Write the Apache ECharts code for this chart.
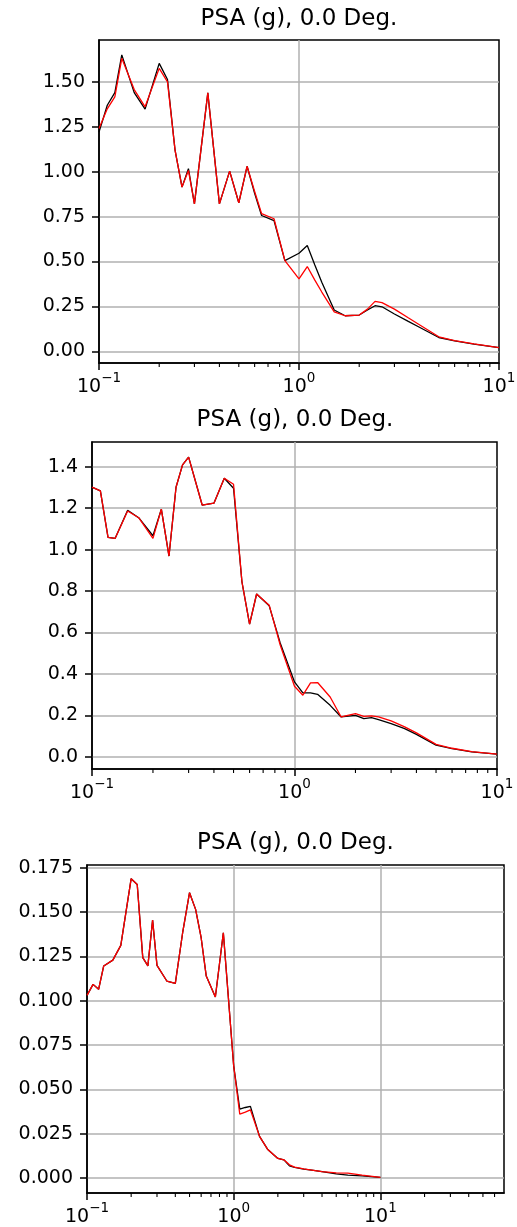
<!DOCTYPE html>
<html><head><meta charset="utf-8">
<script src="https://cdn.jsdelivr.net/npm/echarts@6/dist/echarts.min.js"></script>
<style>html,body{margin:0;padding:0;background:#fff}#c{width:517px;height:1227px}</style>
</head><body><div id="c"></div>
<script>
// ---- data ----
const titleText = 'PSA (g), 0.0 Deg.';
const periods = [0.1,0.11,0.12,0.13,0.15,0.17,0.2,0.22,0.24,0.26,0.28,0.3,0.35,0.4,0.45,0.5,0.55,0.6,0.65,0.75,0.85,1.0,1.1,1.2,1.3,1.5,1.7,2.0,2.2,2.4,2.6,3.0,3.5,4.0,5.0,6.0,7.5,10];

const p1Black = [1.22,1.37,1.44,1.65,1.44,1.348,1.603,1.513,1.12,0.914,1.017,0.821,1.439,0.821,1.003,0.827,1.03,0.88,0.756,0.728,0.505,0.546,0.589,0.480,0.385,0.230,0.198,0.202,0.230,0.254,0.248,0.208,0.168,0.134,0.077,0.058,0.040,0.021];
const p1Red   = [1.24,1.35,1.416,1.631,1.457,1.361,1.575,1.50,1.12,0.914,1.007,0.821,1.439,0.821,1.003,0.827,1.03,0.89,0.766,0.738,0.505,0.403,0.472,0.396,0.330,0.220,0.198,0.202,0.235,0.278,0.271,0.235,0.188,0.148,0.081,0.060,0.041,0.021];

const p2Black = [1.301,1.283,1.059,1.054,1.19,1.154,1.067,1.195,0.969,1.301,1.409,1.446,1.215,1.224,1.344,1.296,0.845,0.641,0.786,0.729,0.55,0.362,0.309,0.309,0.302,0.249,0.193,0.201,0.185,0.190,0.180,0.161,0.137,0.109,0.057,0.040,0.025,0.014];
const p2Red   = [1.301,1.283,1.059,1.054,1.186,1.154,1.054,1.195,0.969,1.301,1.409,1.446,1.215,1.224,1.344,1.315,0.845,0.641,0.786,0.732,0.54,0.341,0.298,0.357,0.359,0.289,0.193,0.209,0.196,0.198,0.193,0.174,0.145,0.116,0.061,0.042,0.026,0.014];

const p3Black = [0.1030,0.1092,0.1064,0.1196,0.1229,0.1312,0.1688,0.1655,0.1243,0.1196,0.1455,0.1199,0.1111,0.1098,0.139,0.1609,0.1515,0.1355,0.1139,0.1021,0.1383,0.0632,0.0389,0.0398,0.0404,0.0235,0.0163,0.0111,0.0103,0.0069,0.0060,0.0051,0.0043,0.0036,0.0024,0.0017,0.0013,0.0004];
const p3Red   = [0.1030,0.1092,0.1064,0.1196,0.1229,0.1312,0.1688,0.1655,0.1243,0.1196,0.1455,0.1199,0.1111,0.1098,0.139,0.1609,0.1515,0.1355,0.1139,0.1021,0.1383,0.0632,0.0361,0.0372,0.0385,0.0235,0.0163,0.0111,0.0103,0.0075,0.0062,0.0052,0.0044,0.0037,0.0029,0.0028,0.0017,0.0004];

const xMajorTicks = [0.1, 1, 10];
const xMinorTicks = [0.2,0.3,0.4,0.5,0.6,0.7,0.8,0.9,2,3,4,5,6,7,8,9,20,30,40,50,60];
const y1Ticks = [0,0.25,0.5,0.75,1.0,1.25,1.5];
const y2Ticks = [0,0.2,0.4,0.6,0.8,1.0,1.2,1.4];
const y3Ticks = [0,0.025,0.05,0.075,0.1,0.125,0.15,0.175];

// ---- layout ----
const FONT = 'DejaVu Sans';
const panels = [
  {grid:{left:99, top:40, width:400, height:323}, title:{left:299, top:8},
   x:[0.1,10], y:[-0.065,1.733], yTicks:y1Ticks, dec:2, black:p1Black, red:p1Red, hideMaxLine:true},
  {grid:{left:92, top:442, width:405, height:327}, title:{left:295, top:409},
   x:[0.1,10], y:[-0.058,1.519], yTicks:y2Ticks, dec:1, black:p2Black, red:p2Red, hideMaxLine:true},
  {grid:{left:87, top:865, width:417, height:328}, title:{left:295.5, top:832},
   x:[0.1,69.6], y:[-0.0084,0.1765], yTicks:y3Ticks, dec:3, black:p3Black, red:p3Red, hideMaxLine:false}
];

const grids=[], xAxes=[], yAxes=[], series=[], titles=[];
panels.forEach((p, i) => {
  grids.push(Object.assign({show:true, borderColor:'#000', borderWidth:1.5, backgroundColor:'transparent', containLabel:false, outerBoundsMode:'none'}, p.grid));
  titles.push({text:titleText, left:p.title.left, top:p.title.top, textAlign:'center', padding:0,
    textStyle:{fontFamily:FONT, fontSize:23, fontWeight:'normal', color:'#000'}});
  xAxes.push({type:'log', logBase:10, gridIndex:i, min:p.x[0], max:p.x[1],
    axisLine:{show:true, onZero:false, lineStyle:{color:'#000', width:1.5}},
    axisTick:{show:true, length:7, customValues:xMajorTicks, lineStyle:{color:'#000', width:1.5}},
    minorTick:{show:false},
    axisLabel:{show:true, customValues:xMajorTicks, margin:8, color:'#000',
      formatter:(v)=>{const e=Math.round(Math.log10(v)); return '{b|10}{s|'+(e<0?'\u2212'+(-e):String(e))+'}';},
      rich:{b:{fontFamily:FONT, fontSize:19, lineHeight:26, verticalAlign:'bottom', color:'#000'},
            s:{fontFamily:FONT, fontSize:13.5, lineHeight:14, verticalAlign:'top', color:'#000'}}},
    splitLine:{show:true, showMinLine:false, showMaxLine:!p.hideMaxLine, lineStyle:{color:'#b0b0b0', width:1.5}}
  });
  yAxes.push({type:'value', gridIndex:i, min:p.y[0], max:p.y[1],
    axisLine:{show:true, onZero:false, lineStyle:{color:'#000', width:1.5}},
    axisTick:{show:true, length:7, customValues:p.yTicks, lineStyle:{color:'#000', width:1.5}},
    axisLabel:{show:true, customValues:p.yTicks, margin:14, color:'#000', fontFamily:FONT, fontSize:19,
      formatter:(v)=>Number(v).toFixed(p.dec)},
    splitLine:{show:true, lineStyle:{color:'#b0b0b0', width:1.5}}
  });
  series.push({type:'line', xAxisIndex:i, yAxisIndex:i, showSymbol:false, symbol:'none',
    data:periods.map((t,k)=>[t,p.black[k]]), lineStyle:{color:'#000', width:1.3}, itemStyle:{color:'#000'}, z:3, animation:false});
  series.push({type:'line', xAxisIndex:i, yAxisIndex:i, showSymbol:false, symbol:'none',
    data:periods.map((t,k)=>[t,p.red[k]]), lineStyle:{color:'#ff0000', width:1.3}, itemStyle:{color:'#ff0000'}, z:4, animation:false});
  const yMin = p.y[0];
  series.push({type:'custom', xAxisIndex:i, yAxisIndex:i, silent:true, clip:false, z:5, animation:false,
    data:xMinorTicks.filter(t=>t<p.x[1]).map(t=>[t,yMin]),
    renderItem:(params, api)=>{
      const c = api.coord([api.value(0), api.value(1)]);
      return {type:'line', shape:{x1:c[0], y1:c[1], x2:c[0], y2:c[1]+4}, style:{stroke:'#000', lineWidth:1.1}};
    }});
});

const chart = echarts.init(document.getElementById('c'), null, {renderer:'canvas'});
chart.setOption({animation:false, backgroundColor:'#fff', title:titles, grid:grids, xAxis:xAxes, yAxis:yAxes, series:series});
</script></body></html>
